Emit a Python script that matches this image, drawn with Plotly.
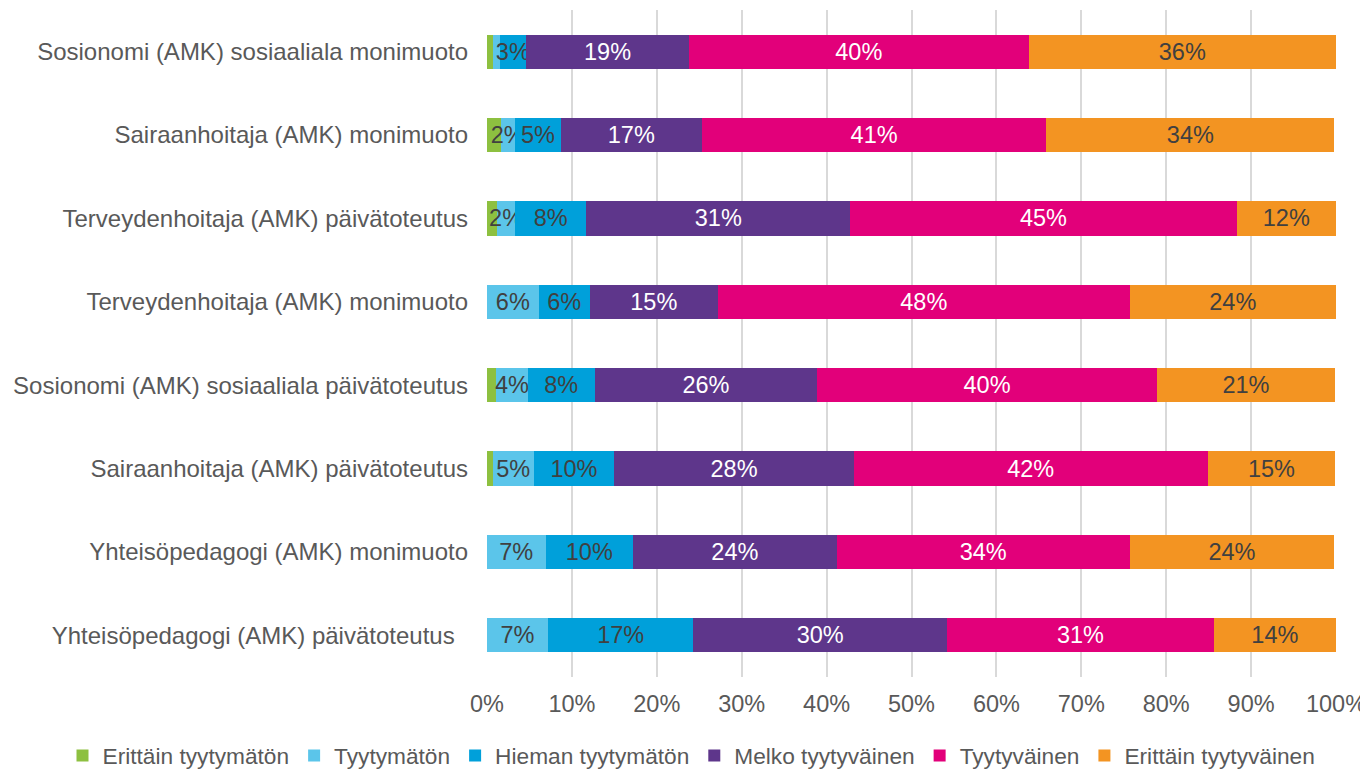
import plotly.graph_objects as go

# categories, top to bottom
programmes = [
    "Sosionomi (AMK) sosiaaliala monimuoto",
    "Sairaanhoitaja (AMK) monimuoto",
    "Terveydenhoitaja (AMK) päivätoteutus",
    "Terveydenhoitaja (AMK) monimuoto",
    "Sosionomi (AMK) sosiaaliala päivätoteutus",
    "Sairaanhoitaja (AMK) päivätoteutus",
    "Yhteisöpedagogi (AMK) monimuoto",
    "Yhteisöpedagogi (AMK) päivätoteutus  ",
]

# shares in percent
erittain_tyytymaton = [0.7, 1.6, 1.2, 0.0, 1.1, 0.7, 0.0, 0.0]
tyytymaton = [0.8, 1.7, 2.1, 6.1, 3.7, 4.8, 6.9, 7.2]
hieman_tyytymaton = [3.1, 5.4, 8.4, 6.0, 7.9, 9.5, 10.3, 17.1]
melko_tyytyvainen = [19.2, 16.6, 31.1, 15.1, 26.2, 28.2, 24.0, 29.9]
tyytyvainen = [40.0, 40.6, 45.5, 48.5, 40.0, 41.7, 34.5, 31.4]
erittain_tyytyvainen = [36.2, 33.9, 11.7, 24.3, 21.0, 15.0, 24.1, 14.4]

# data labels as shown in the chart (tiny segments have none)
labels_et = ["", "", "", "", "", "", "", ""]
labels_t = ["", "2%", "2%", "6%", "4%", "5%", "7%", "7%"]
labels_ht = ["3%", "5%", "8%", "6%", "8%", "10%", "10%", "17%"]
labels_mt = ["19%", "17%", "31%", "15%", "26%", "28%", "24%", "30%"]
labels_ty = ["40%", "41%", "45%", "48%", "40%", "42%", "34%", "31%"]
labels_ety = ["36%", "34%", "12%", "24%", "21%", "15%", "24%", "14%"]

series = [
    ("Erittäin tyytymätön", erittain_tyytymaton, labels_et, "#8DC040", "#404040"),
    ("Tyytymätön", tyytymaton, labels_t, "#5BC5EA", "#404040"),
    ("Hieman tyytymätön", hieman_tyytymaton, labels_ht, "#00A0DA", "#404040"),
    ("Melko tyytyväinen", melko_tyytyvainen, labels_mt, "#5E368B", "#FFFFFF"),
    ("Tyytyväinen", tyytyvainen, labels_ty, "#E2007A", "#FFFFFF"),
    ("Erittäin tyytyväinen", erittain_tyytyvainen, labels_ety, "#F39422", "#404040"),
]

FONT = "Liberation Sans, Arial"

fig = go.Figure()

for name, values, labels, color, text_color in series:
    fig.add_trace(
        go.Bar(
            y=programmes,
            x=values,
            name=name,
            orientation="h",
            text=labels,
            textposition="inside",
            insidetextanchor="middle",
            textangle=0,
            constraintext="none",
            cliponaxis=False,
            textfont=dict(color=text_color, size=23.5, family=FONT),
            marker=dict(color=color, line=dict(width=0)),
            width=0.41,
        )
    )

# the page body has an 8px margin, so the figure is shifted by 8px
fig.update_layout(
    barmode="stack",
    width=1360,
    height=771,
    margin=dict(l=479, r=32, t=2, b=100),
    paper_bgcolor="white",
    plot_bgcolor="white",
    font=dict(family=FONT, size=23.5, color="#595959"),
    # legend sits left of the plot area so it may use the full width in one row
    legend=dict(
        orientation="h",
        xref="paper",
        yref="paper",
        x=-0.5,
        y=-0.118,
        xanchor="left",
        yanchor="middle",
        font=dict(size=22.7, color="#595959"),
        itemwidth=30,
        tracegroupgap=0,
        traceorder="normal",
    ),
    xaxis=dict(
        range=[0, 100],
        tickvals=[0, 10, 20, 30, 40, 50, 60, 70, 80, 90, 100],
        ticktext=["0%", "10%", "20%", "30%", "40%", "50%", "60%", "70%", "80%", "90%", "100%"],
        showgrid=True,
        gridcolor="#D9D9D9",
        gridwidth=2,
        zeroline=False,
        showline=False,
        ticks="",
        automargin=False,
        tickfont=dict(size=23.5, color="#595959"),
        ticklabelstandoff=10,
    ),
    yaxis=dict(
        categoryorder="array",
        categoryarray=programmes,
        autorange="reversed",
        showgrid=False,
        ticks="",
        automargin=False,
        tickfont=dict(size=24, color="#595959"),
        ticklabelstandoff=18,
    ),
)

fig.write_html("out.html")
